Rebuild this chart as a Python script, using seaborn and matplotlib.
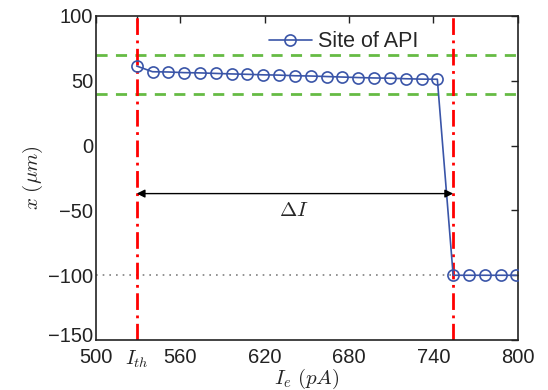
import matplotlib
matplotlib.use("Agg")
import matplotlib.pyplot as plt
import matplotlib.transforms as mtransforms
import seaborn as sns
import pandas as pd

# injected current (pA) and site of API (um)
current = [529.0, 540.25, 551.5, 562.75, 574.0, 585.25, 596.5, 607.75, 619.0, 630.25,
           641.5, 652.75, 664.0, 675.25, 686.5, 697.75, 709.0, 720.25, 731.5, 742.75,
           754.0, 765.25, 776.5, 787.75, 799.0]
site = [61.4, 57.0, 56.8, 56.3, 56.1, 55.7, 55.3, 55.0, 54.6, 54.4,
        53.9, 53.7, 53.3, 52.9, 52.5, 52.2, 52.0, 51.6, 51.3, 51.2,
        -100, -100, -100, -100, -100]

i_th = 529.0
i_end = 754.0
band = [70, 40]
x_ticks = [500, i_th, 560, 620, 680, 740, 800]
x_ticklabels = ["500", "$I_{th}$", "560", "620", "680", "740", "800"]
y_ticks = [-150, -100, -50, 0, 50, 100]

df = pd.DataFrame({"current": current, "site": site})

sns.set_style("white")
plt.rcParams["font.family"] = ["Liberation Sans", "DejaVu Sans"]
plt.rcParams["mathtext.fontset"] = "cm"

fig = plt.figure(figsize=(5.48, 3.9), dpi=100)
ax = fig.add_axes([0.175, 0.128, 0.77, 0.831])

# green band and grey reference line
for yv in band:
    ax.axhline(yv, color="#66bb44", ls=(0, (4, 3)), lw=2, zorder=1)
ax.plot([500, i_end], [-100, -100], color="grey", ls=(0, (1, 3)), lw=1.2, zorder=1)

# red dash-dot markers for threshold and end
for xv in [i_th, i_end]:
    ax.axvline(xv, color="red", ls=(0, (6, 2, 1, 2)), lw=2, zorder=2)

sns.lineplot(data=df, x="current", y="site", ax=ax, color="#3a55a8", lw=1.2,
             marker="o", markersize=8, markerfacecolor="none",
             markeredgecolor="#3a55a8", markeredgewidth=1.2,
             label="Site of API", zorder=3)

# delta I arrow
ax.annotate("", xy=(i_th, -37), xytext=(i_end, -37),
            arrowprops=dict(arrowstyle="<|-|>", color="black", lw=1,
                            shrinkA=0, shrinkB=0, mutation_scale=12))
ax.text(641, -50, r"$\Delta I$", fontsize=15, ha="center", va="center")

ax.set_xlim(500, 800)
ax.set_ylim(-150, 100)
ax.set_xticks(x_ticks)
ax.set_xticklabels(x_ticklabels)
ax.set_yticks(y_ticks)
ax.set_yticklabels(["\u2212150", "\u2212100", "\u221250", "0", "50", "100"])
ax.tick_params(direction="in", length=5, width=1, top=True, right=True,
               labelsize=14.5, colors="#222222")
ax.tick_params(axis="x", pad=6)
ax.tick_params(axis="y", pad=2)
# nudge the lowest y label up a little so it clears the "500" below it
lab = ax.get_yticklabels()[0]
lab.set_transform(lab.get_transform() +
                  mtransforms.ScaledTranslation(0, 4 / 72, fig.dpi_scale_trans))
for s in ax.spines.values():
    s.set_color("#222222")
    s.set_linewidth(1.2)

ax.set_xlabel(r"$I_e\ (pA)$", fontsize=15, labelpad=-2)
ax.set_ylabel(r"$x\ (\mu m)$", fontsize=15, labelpad=2)

leg = ax.legend(loc="upper right", frameon=False, fontsize=15.5,
                handlelength=2.0, handletextpad=0.3, borderaxespad=0.3,
                bbox_to_anchor=(0.8, 1.0))

fig.savefig("out.png", dpi=100)
